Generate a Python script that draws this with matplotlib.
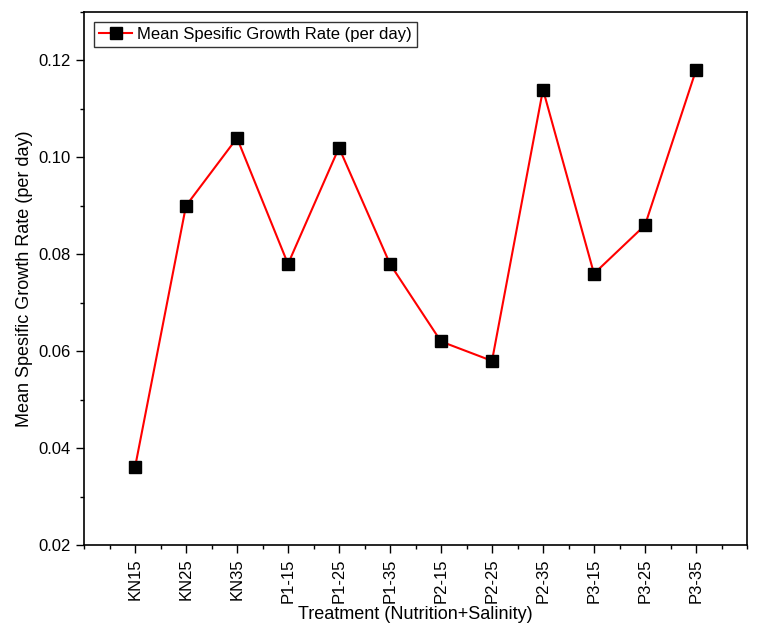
import matplotlib.pyplot as plt
from matplotlib.ticker import MultipleLocator

plt.rcParams['font.family'] = ['Liberation Sans', 'DejaVu Sans']

treatments = ["KN15", "KN25", "KN35", "P1-15", "P1-25", "P1-35",
              "P2-15", "P2-25", "P2-35", "P3-15", "P3-25", "P3-35"]
growth_rate = [0.036, 0.090, 0.104, 0.078, 0.102, 0.078,
               0.062, 0.058, 0.114, 0.076, 0.086, 0.118]

fig = plt.figure(figsize=(7.62, 6.36), dpi=100)
ax = fig.add_axes([84/762, 1 - 545/636, (747-84)/762, (545-12)/636])

x = list(range(len(treatments)))
ax.plot(x, growth_rate, color="red", linewidth=1.5, marker="s", markersize=9,
        markerfacecolor="black", markeredgecolor="black",
        label="Mean Spesific Growth Rate (per day)")

ax.set_xlim(-1, 12)
ax.set_ylim(0.02, 0.13)
ax.set_xticks(x)
ax.set_xticklabels(treatments, rotation=90, fontsize=12)
ax.xaxis.set_minor_locator(MultipleLocator(0.5))
ax.yaxis.set_major_locator(MultipleLocator(0.02))
ax.yaxis.set_minor_locator(MultipleLocator(0.01))
ax.yaxis.set_major_formatter(plt.FormatStrFormatter("%.2f"))
ax.tick_params(axis="both", which="major", direction="out", length=6, width=1, labelsize=12)
ax.tick_params(axis="both", which="minor", direction="out", length=3, width=1)
for s in ax.spines.values():
    s.set_linewidth(1.2)

ax.set_xlabel("Treatment (Nutrition+Salinity)", fontsize=13, labelpad=2)
ax.set_ylabel("Mean Spesific Growth Rate (per day)", fontsize=13)
ax.legend(loc="upper left", fontsize=12, frameon=True, fancybox=False,
          edgecolor="black", borderaxespad=0.6, handlelength=2.0,
          handletextpad=0.3, borderpad=0.3)

plt.savefig("out.png", dpi=100)
